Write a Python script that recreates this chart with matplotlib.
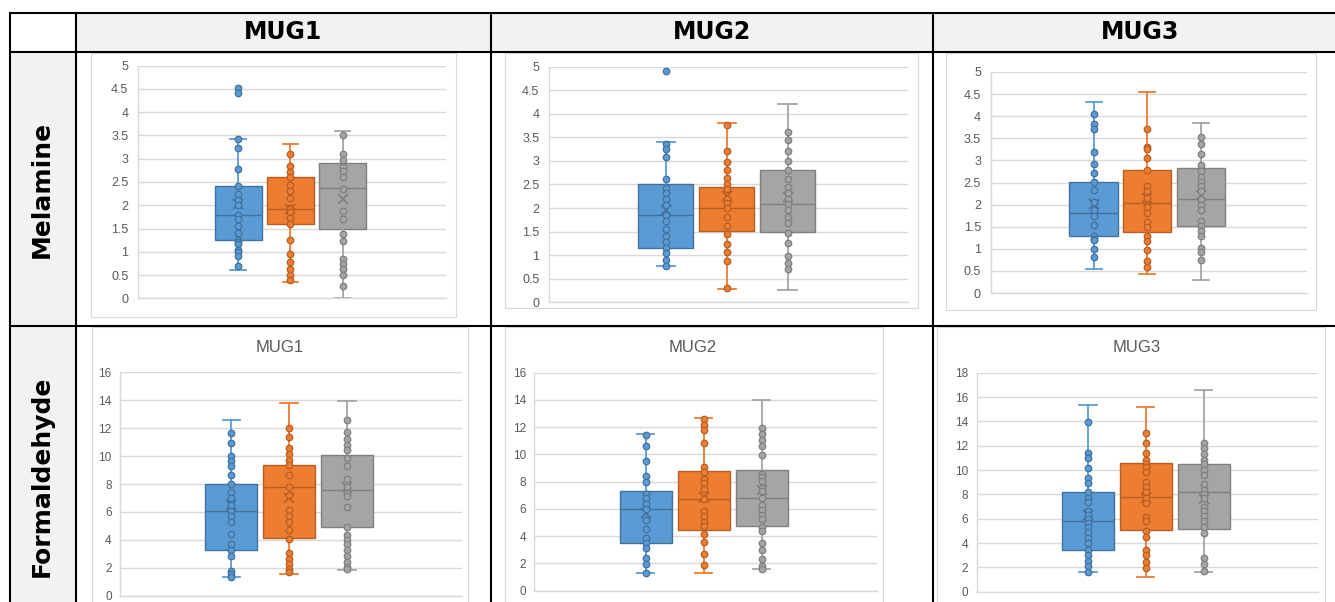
import numpy as np
import matplotlib
matplotlib.use('Agg')
import matplotlib.pyplot as plt
from matplotlib import font_manager
from matplotlib.patches import Rectangle

W, H = 1335, 602

mugs = ['MUG1', 'MUG2', 'MUG3']
rows = ['Melamine', 'Formaldehyde']
colors = ['#5B9BD5', '#ED7D31', '#A5A5A5']
edges = ['#41719C', '#B85E22', '#7F7F7F']

# box statistics: one inner list per mug, one value per series (blue, orange, grey)
mel_q1 = [[1.25, 1.60, 1.50], [1.16, 1.51, 1.49], [1.30, 1.38, 1.52]]
mel_med = [[1.80, 1.91, 2.37], [1.85, 2.01, 2.09], [1.82, 2.03, 2.12]]
mel_q3 = [[2.41, 2.61, 2.90], [2.50, 2.45, 2.80], [2.51, 2.78, 2.82]]
mel_mean = [[2.02, 1.92, 2.14], [1.95, 2.26, 2.24], [2.01, 2.16, 2.21]]
mel_lo = [[0.61, 0.36, 0.00], [0.77, 0.29, 0.26], [0.55, 0.42, 0.30]]
mel_hi = [[3.42, 3.31, 3.60], [3.41, 3.81, 4.21], [4.33, 4.55, 3.85]]

mel_mug1_pts = [
    [4.51, 4.41, 3.42, 3.24, 2.77, 2.41, 2.24, 2.12, 2.00, 1.80, 1.70, 1.55,
     1.40, 1.25, 1.20, 1.17, 1.04, 1.00, 0.90, 0.69],
    [3.10, 2.84, 2.71, 2.61, 2.44, 2.31, 2.15, 1.95, 1.91, 1.85, 1.72, 1.60,
     1.25, 0.95, 0.79, 0.63, 0.50, 0.39],
    [3.52, 3.10, 2.97, 2.82, 2.73, 2.61, 2.35, 1.87, 1.71, 1.38, 1.24, 0.85,
     0.73, 0.64, 0.50, 0.26],
]
mel_mug2_pts = [
    [4.90, 3.37, 3.25, 3.08, 2.62, 2.43, 2.31, 2.20, 2.06, 1.85, 1.73, 1.55,
     1.41, 1.29, 1.16, 1.05, 0.90, 0.78],
    [3.76, 3.21, 2.98, 2.80, 2.63, 2.52, 2.40, 2.20, 2.11, 2.00, 1.80, 1.61,
     1.46, 1.23, 1.06, 0.88, 0.30],
    [3.61, 3.44, 3.21, 3.00, 2.80, 2.61, 2.45, 2.31, 2.20, 2.09, 1.95, 1.80,
     1.68, 1.48, 1.26, 0.99, 0.84, 0.70],
]
mel_mug3_pts = [
    [4.06, 3.82, 3.70, 3.19, 2.92, 2.72, 2.51, 2.32, 2.05, 1.88, 1.75, 1.53,
     1.30, 1.23, 1.19, 1.00, 0.81],
    [3.71, 3.31, 3.25, 3.06, 2.78, 2.41, 2.30, 2.15, 2.00, 1.95, 1.82, 1.61,
     1.49, 1.30, 1.18, 0.97, 0.72, 0.58],
    [3.52, 3.37, 3.14, 2.90, 2.76, 2.62, 2.52, 2.41, 2.30, 2.12, 1.99, 1.87,
     1.62, 1.52, 1.40, 1.30, 1.01, 0.92, 0.74],
]

form_q1 = [[3.29, 4.10, 4.89], [3.50, 4.45, 4.77], [3.40, 5.07, 5.18]]
form_med = [[6.04, 7.78, 7.59], [6.01, 6.70, 6.77], [5.84, 7.81, 8.16]]
form_q3 = [[7.97, 9.33, 10.10], [7.29, 8.78, 8.88], [8.22, 10.60, 10.47]]
form_mean = [[6.49, 6.97, 7.76], [5.67, 6.89, 7.36], [6.30, 7.67, 7.59]]
form_lo = [[1.36, 1.58, 1.84], [1.27, 1.32, 1.60], [1.62, 1.21, 1.62]]
form_hi = [[12.58, 13.79, 13.96], [11.49, 12.67, 14.03], [15.32, 15.21, 16.55]]

form_mug1_pts = [
    [11.62, 10.91, 10.02, 9.64, 9.26, 8.62, 7.97, 7.45, 7.02, 6.49, 6.04, 5.70,
     5.30, 4.42, 3.70, 3.29, 2.86, 1.77, 1.53, 1.36],
    [12.00, 11.36, 10.55, 10.12, 9.74, 9.33, 8.62, 7.78, 7.21, 6.13, 5.73,
     5.30, 4.73, 4.05, 3.03, 2.60, 2.27, 1.91, 1.72],
    [12.58, 11.72, 11.22, 10.81, 10.41, 9.88, 9.31, 8.33, 7.80, 7.37, 7.11,
     6.32, 4.94, 4.34, 3.99, 3.68, 3.25, 2.84, 2.43, 2.08, 1.90],
]
form_mug2_pts = [
    [11.44, 10.64, 9.49, 8.41, 7.99, 7.07, 6.77, 6.38, 6.01, 5.21, 4.50, 3.89,
     3.50, 3.11, 2.40, 1.98, 1.27],
    [12.60, 12.15, 11.76, 10.83, 9.07, 8.70, 8.19, 7.87, 7.48, 6.70, 5.87,
     5.50, 5.01, 4.74, 4.13, 3.59, 2.69, 1.88],
    [11.96, 11.47, 11.05, 10.64, 9.93, 8.58, 8.31, 8.04, 7.53, 7.30, 6.80,
     6.28, 5.92, 5.55, 5.26, 4.69, 4.35, 3.50, 2.98, 2.30, 1.83, 1.60],
]
form_mug3_pts = [
    [13.95, 11.42, 11.01, 10.19, 9.32, 8.93, 8.22, 7.73, 7.40, 6.60, 6.30,
     5.97, 5.67, 5.29, 4.90, 4.38, 3.97, 3.40, 3.01, 2.49, 2.11, 1.62],
    [13.04, 12.22, 11.37, 10.82, 10.50, 10.25, 9.84, 8.99, 8.58, 8.16, 7.70,
     7.26, 6.16, 5.78, 4.99, 4.47, 3.40, 3.01, 2.41, 1.95],
    [12.25, 11.78, 11.32, 10.82, 10.50, 10.00, 9.62, 8.82, 8.36, 8.00, 7.67,
     6.99, 6.63, 6.22, 5.78, 5.34, 4.79, 2.79, 2.30, 1.70],
]

mel_pts = [mel_mug1_pts, mel_mug2_pts, mel_mug3_pts]
form_pts = [form_mug1_pts, form_mug2_pts, form_mug3_pts]
form_ymax = [16, 16, 18]

installed = {f.name for f in font_manager.fontManager.ttflist}
narrow = 'Liberation Sans Narrow' if 'Liberation Sans Narrow' in installed else 'Liberation Sans'
grey_txt = '#595959'

fig = plt.figure(figsize=(W / 100, H / 100), dpi=100)
bg = fig.add_axes([0, 0, 1, 1], zorder=0)
bg.set_autoscale_on(False)
bg.set_xlim(0, W)
bg.set_ylim(H, 0)
bg.axis('off')

# shaded header row and label column
bg.add_patch(Rectangle((76, 13), W - 76, 39, fc='#f2f2f2', ec='none'))
bg.add_patch(Rectangle((10, 52), 66, H - 52, fc='#f2f2f2', ec='none'))

# white chart frames inside the cells
frames = [(91, 53, 456, 317), (505, 53, 918, 308), (946, 53, 1316, 310),
          (92, 327, 468, H + 5), (505, 327, 883, H + 5), (937, 327, 1325, H + 5)]
for x0, y0, x1, y1 in frames:
    bg.add_patch(Rectangle((x0, y0), x1 - x0, y1 - y0, fc='white', ec='#d9d9d9', lw=0.8))

# table rules
for y in (13, 52, 326):
    bg.plot([9.3, W], [y, y], color='black', lw=1.5, solid_capstyle='butt')
for x in (10, 76, 491, 933):
    bg.plot([x, x], [12.3, H], color='black', lw=1.5, solid_capstyle='butt')

for i, m in enumerate(mugs):
    bg.text([283, 712, 1140][i], 32, m, ha='center', va='center',
            fontsize=17, fontweight='bold', family='DejaVu Sans')
bg.text(42, 189, rows[0], rotation=90, ha='center', va='center',
        fontsize=18, fontweight='bold', family='DejaVu Sans')
bg.text(42, 476, rows[1], rotation=90, ha='center', va='center',
        fontsize=18, fontweight='bold', family='DejaVu Sans')


def draw_chart(rect, q1, med, q3, mean, lo, hi, pts, ymax, step, font, fsize, pad):
    x0, y0, x1, y1 = rect
    ax = fig.add_axes([x0 / W, 1 - y1 / H, (x1 - x0) / W, (y1 - y0) / H], zorder=2)
    ax.patch.set_alpha(0)
    for i in range(3):
        st = dict(q1=q1[i], med=med[i], q3=q3[i], mean=mean[i],
                  whislo=lo[i], whishi=hi[i], fliers=[])
        ax.bxp([st], positions=[i + 1], widths=0.9, showmeans=True,
               patch_artist=True, showfliers=False, capwidths=0.3,
               boxprops=dict(facecolor=colors[i], edgecolor=edges[i], lw=1.0),
               medianprops=dict(color=edges[i], lw=1.0),
               whiskerprops=dict(color=colors[i], lw=1.3),
               capprops=dict(color=colors[i], lw=1.3),
               meanprops=dict(marker='x', markeredgecolor=edges[i],
                              markersize=7, markeredgewidth=1.2))
        ax.scatter([i + 1] * len(pts[i]), pts[i], s=22, fc=colors[i],
                   ec=edges[i], lw=0.9, zorder=4)
    ax.set_xlim(-0.92, 4.98)
    ax.set_ylim(0, ymax)
    ax.set_yticks(np.arange(0, ymax + step / 2, step))
    ax.set_yticklabels(['%g' % v for v in np.arange(0, ymax + step / 2, step)],
                       family=font, fontsize=fsize, color=grey_txt)
    ax.set_xticks([])
    ax.tick_params(axis='y', length=0, pad=pad)
    ax.yaxis.grid(True, color='#d9d9d9', lw=1)
    ax.set_axisbelow(True)
    for s in ('top', 'right'):
        ax.spines[s].set_visible(False)
    for s in ('left', 'bottom'):
        ax.spines[s].set_color('#d9d9d9')
        ax.spines[s].set_linewidth(1)
    return ax


mel_rects = [(138, 65.7, 446, 298.3), (549, 66.7, 908, 302.3), (990.7, 72, 1306.7, 293)]
form_rects = [(120, 372.3, 461.7, 595.7), (534.3, 372.7, 876.7, 590.7), (976.7, 372.7, 1318.3, 591.7)]
form_title_x = [280, 693, 1137]

for k in range(3):
    draw_chart(mel_rects[k], mel_q1[k], mel_med[k], mel_q3[k], mel_mean[k],
               mel_lo[k], mel_hi[k], mel_pts[k], 5, 0.5, 'Liberation Sans', 9, 7)
    draw_chart(form_rects[k], form_q1[k], form_med[k], form_q3[k], form_mean[k],
               form_lo[k], form_hi[k], form_pts[k], form_ymax[k], 2, narrow, 8.5, 6)
    bg.text(form_title_x[k], 348, mugs[k], ha='center', va='center',
            fontsize=12, family=narrow, color=grey_txt)

fig.savefig('out.png', dpi=100)
